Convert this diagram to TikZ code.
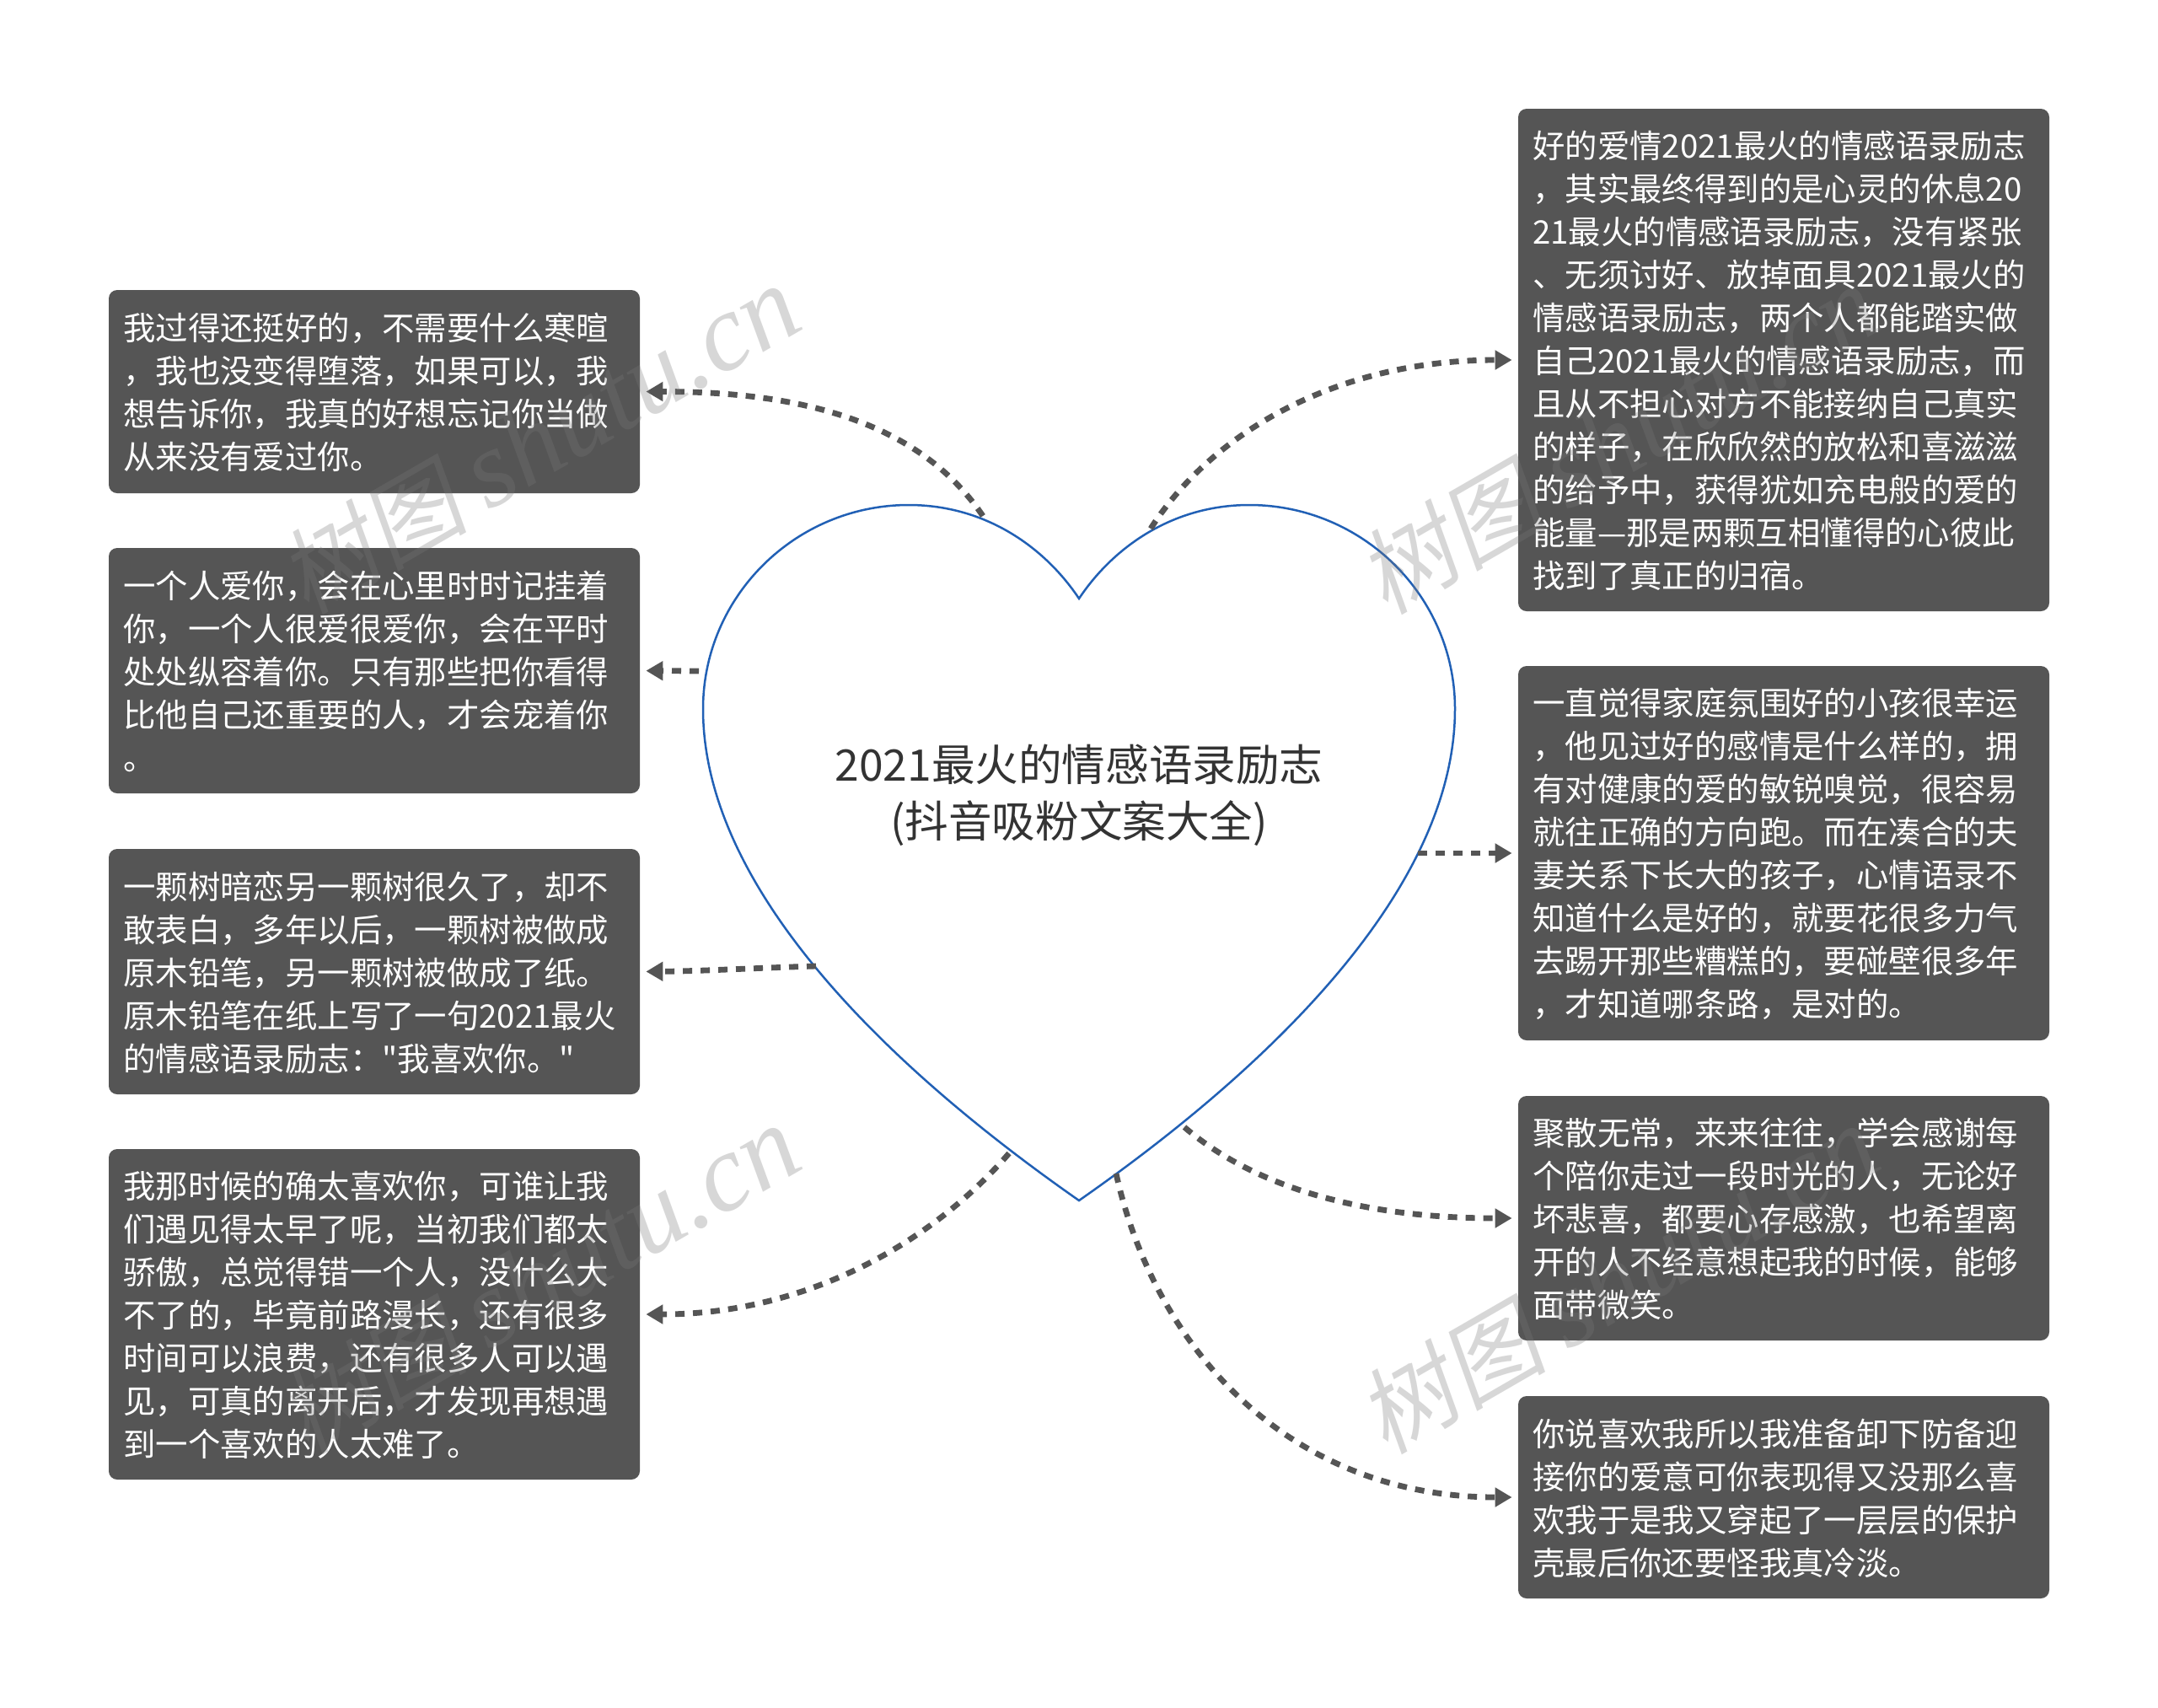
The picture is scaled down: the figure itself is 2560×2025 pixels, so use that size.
\documentclass[tikz,border=0pt]{standalone}
\usepackage{fontspec}
\usetikzlibrary{arrows.meta}
\setmainfont{Noto Sans CJK SC}
\newfontfamily\cjkplain{Noto Sans CJK SC}
\newfontfamily\wmcjk[FakeSlant=0.18]{Noto Sans CJK SC}
\newfontfamily\wmlat{Liberation Serif}
\definecolor{boxgray}{HTML}{555555}
\definecolor{heartblue}{HTML}{2160B5}
\definecolor{titlegray}{HTML}{333333}
\definecolor{wmgray}{RGB}{120,120,120}
\tikzset{
  box/.style={fill=boxgray,rounded corners=5pt,text=white,inner xsep=8.6pt,inner ysep=0pt,
    minimum width=315pt,text width=297.8pt,align=left,
    font=\cjkplain\fontsize{19.2}{25.5}\selectfont,
    execute at begin node={\rule{0pt}{17.4pt}}},
  heartline/.style={draw=heartblue,fill=white,line width=1.25pt,line join=miter},
  titletext/.style={text=titlegray,align=center,font=\fontsize{25.8}{33.5}\selectfont,inner sep=0pt},
  link/.style={draw=boxgray,line width=3.4pt,dash pattern=on 5.5pt off 5pt,
    -{Triangle[length=10pt,width=11pt]},shorten >=3.5pt},
  wmark/.style={text=wmgray,text opacity=.29,rotate=30,inner sep=0pt},
}
\newcommand{\wmtext}{{\wmcjk\fontsize{56}{60}\selectfont 树图}\hspace{12pt}{\wmlat\itshape\fontsize{65}{70}\selectfont shutu.cn}}
\begin{document}
\begin{tikzpicture}[x=0.5pt,y=-0.5pt]
\useasboundingbox (0,0) rectangle (2560,2025);
\fill[white] (0,0) rectangle (2560,2025);
% heart
\draw[heartline] (1280,710)
  .. controls (1240,650) and (1170,599) .. (1078,599)
  .. controls (944,599) and (834,707) .. (834,841)
  .. controls (834,1050) and (1045,1260) .. (1280,1424)
  .. controls (1515,1260) and (1726,1050) .. (1726,841)
  .. controls (1726,707) and (1616,599) .. (1482,599)
  .. controls (1390,599) and (1320,650) .. (1280,710) -- cycle;
\node[titletext] (title) at (1280,943) {2021最火的情感语录励志\\(抖音吸粉文案大全)};
% anchor points on the heart outline
\coordinate (h1) at (1166,612);
\coordinate (h2) at (829,796);
\coordinate (h3) at (968,1146);
\coordinate (h4) at (1197,1368);
\coordinate (h5) at (1365,627);
\coordinate (h6) at (1682,1012);
\coordinate (h7) at (1405,1337);
\coordinate (h8) at (1324,1392);
% boxes
\node[box,minimum height=120.5pt] (l1) at (444,464.5) {我过得还挺好的，不需要什么寒暄\\，我也没变得堕落，如果可以，我\\想告诉你，我真的好想忘记你当做\\从来没有爱过你。};
\node[box,minimum height=145.5pt] (l2) at (444,795.5) {一个人爱你，会在心里时时记挂着\\你，一个人很爱很爱你，会在平时\\处处纵容着你。只有那些把你看得\\比他自己还重要的人，才会宠着你\\。};
\node[box,minimum height=145.5pt] (l3) at (444,1152.5) {一颗树暗恋另一颗树很久了，却不\\敢表白，多年以后，一颗树被做成\\原木铅笔，另一颗树被做成了纸。\\原木铅笔在纸上写了一句2021最火\\的情感语录励志："我喜欢你。"};
\node[box,minimum height=196pt] (l4) at (444,1559) {我那时候的确太喜欢你，可谁让我\\们遇见得太早了呢，当初我们都太\\骄傲，总觉得错一个人，没什么大\\不了的，毕竟前路漫长，还有很多\\时间可以浪费，还有很多人可以遇\\见，可真的离开后，才发现再想遇\\到一个喜欢的人太难了。};
\node[box,minimum height=298pt] (r1) at (2116,427) {好的爱情2021最火的情感语录励志\\，其实最终得到的是心灵的休息20\\21最火的情感语录励志，没有紧张\\、无须讨好、放掉面具2021最火的\\情感语录励志，两个人都能踏实做\\自己2021最火的情感语录励志，而\\且从不担心对方不能接纳自己真实\\的样子，在欣欣然的放松和喜滋滋\\的给予中，获得犹如充电般的爱的\\能量—那是两颗互相懂得的心彼此\\找到了真正的归宿。};
\node[box,minimum height=222pt] (r2) at (2116,1012) {一直觉得家庭氛围好的小孩很幸运\\，他见过好的感情是什么样的，拥\\有对健康的爱的敏锐嗅觉，很容易\\就往正确的方向跑。而在凑合的夫\\妻关系下长大的孩子，心情语录不\\知道什么是好的，就要花很多力气\\去踢开那些糟糕的，要碰壁很多年\\，才知道哪条路，是对的。};
\node[box,minimum height=145pt] (r3) at (2116,1445) {聚散无常，来来往往，学会感谢每\\个陪你走过一段时光的人，无论好\\坏悲喜，都要心存感激，也希望离\\开的人不经意想起我的时候，能够\\面带微笑。};
\node[box,minimum height=120pt] (r4) at (2116,1776) {你说喜欢我所以我准备卸下防备迎\\接你的爱意可你表现得又没那么喜\\欢我于是我又穿起了一层层的保护\\壳最后你还要怪我真冷淡。};
% connectors
\draw[link] (h1) .. controls (1090,500) and (950,464.5) .. (l1.east);
\draw[link] (h2) -- (l2.east);
\draw[link] (h3) .. controls (900,1148) and (830,1152) .. (l3.east);
\draw[link] (h4) .. controls (1100,1480) and (950,1559) .. (l4.east);
\draw[link] (h5) .. controls (1440,510) and (1590,427) .. (r1.west);
\draw[link] (h6) -- (r2.west);
\draw[link] (h7) .. controls (1490,1410) and (1620,1445) .. (r3.west);
\draw[link] (h8) .. controls (1370,1600) and (1530,1776) .. (r4.west);
% watermarks
\node[wmark] (wm1) at (640,522) {\wmtext};
\node[wmark] (wm2) at (1920,522) {\wmtext};
\node[wmark] (wm3) at (640,1518) {\wmtext};
\node[wmark] (wm4) at (1920,1518) {\wmtext};
\end{tikzpicture}
\end{document}
